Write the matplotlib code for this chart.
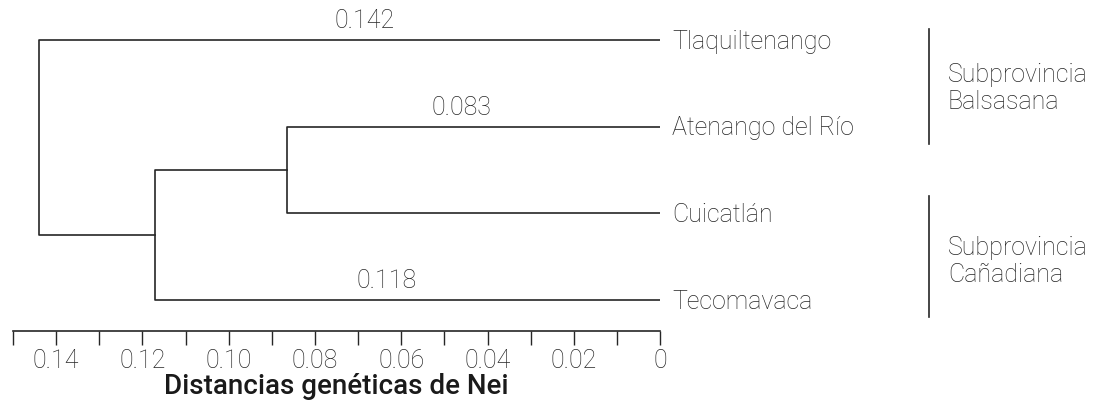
import numpy as np
import matplotlib.pyplot as plt

# datos del dendrograma (distancias de Nei)
leaves = ['Tlaquiltenango', 'Atenango del Río', 'Cuicatlán', 'Tecomavaca']
leaf_y = [0, 1, 2, 3]
join_ac = 0.0865     # Atenango + Cuicatlán
join_teco = 0.117    # (Aten, Cuic) + Tecomavaca
join_root = 0.144    # todo + Tlaquiltenango
branch_labels = ['0.142', '0.083', '0.118']
branch_label_x = [0.0685, 0.046, 0.0633]
branch_label_y = [0, 1, 3]
groups = ['Subprovincia\nBalsasana', 'Subprovincia\nCañadiana']

col = '#262626'
plt.rcParams['font.family'] = ['Roboto', 'DejaVu Sans']
plt.rcParams['font.weight'] = 'light'
fs = 18

fig = plt.figure(figsize=(10.97, 4.0), dpi=100)
ax = fig.add_axes([0.0118, 0.1725, 0.59, 0.8275])

lw = 1.2
# nodo Atenango-Cuicatlán
ax.plot([0, join_ac, join_ac, 0], [leaf_y[1], leaf_y[1], leaf_y[2], leaf_y[2]], color=col, lw=lw)
# nodo con Tecomavaca
ymid_ac = (leaf_y[1] + leaf_y[2]) / 2
ax.plot([join_ac, join_teco, join_teco, 0], [ymid_ac, ymid_ac, leaf_y[3], leaf_y[3]], color=col, lw=lw)
# raíz
ymid_t = (ymid_ac + leaf_y[3]) / 2
ax.plot([0, join_root, join_root, join_teco], [leaf_y[0], leaf_y[0], ymid_t, ymid_t], color=col, lw=lw)

for lab, x, y in zip(branch_labels, branch_label_x, branch_label_y):
    ax.text(x, y - 0.08, lab, ha='center', va='bottom', fontsize=fs, color=col)

for lab, y in zip(leaves, leaf_y):
    ax.text(-0.0028, y + 0.02, lab, ha='left', va='center', fontsize=fs, color=col, clip_on=False)

# corchetes de subprovincias
xb = -0.0622
ax.plot([xb, xb], [-0.12, 1.2], color=col, lw=1.2, clip_on=False)
ax.plot([xb, xb], [1.8, 3.2], color=col, lw=1.2, clip_on=False)
ax.text(xb - 0.0045, 0.56, groups[0], ha='left', va='center', fontsize=fs, color=col, linespacing=1.15)
ax.text(xb - 0.0045, 2.56, groups[1], ha='left', va='center', fontsize=fs, color=col, linespacing=1.15)

ax.set_xlim(0.15, 0)
ax.set_ylim(3.36, -0.46)
ticks = np.arange(0, 0.151, 0.01)
ax.set_xticks(ticks)
ax.set_xticklabels(['0' if i == 0 else (f'{t:.2f}' if i % 2 == 0 else '') for i, t in enumerate(ticks)])
ax.tick_params(axis='x', length=10, width=1.0, color=col, labelcolor=col, labelsize=fs, pad=3)
ax.set_yticks([])
for s in ['top', 'left', 'right']:
    ax.spines[s].set_visible(False)
ax.spines['bottom'].set_color(col)
ax.spines['bottom'].set_linewidth(1.2)
ax.set_xlabel('Distancias genéticas de Nei', fontsize=20, fontweight='medium', color='#1a1a1a', labelpad=0)

fig.savefig('out.png', dpi=100)
